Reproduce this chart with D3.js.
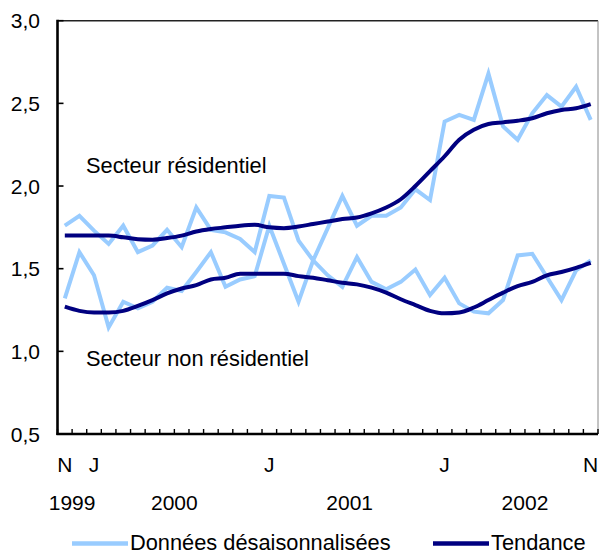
<!DOCTYPE html>
<html>
<head>
<meta charset="utf-8">
<script src="https://cdn.jsdelivr.net/npm/d3@7"></script>
<style>
  html, body { margin: 0; padding: 0; background: #fff; }
  svg { display: block; }
</style>
</head>
<body>
<svg id="chart" width="599" height="555"></svg>
<script>
(function () {
  'use strict';

  // Nov 1999 .. Nov 2002, monthly
  const months = d3.timeMonth.range(new Date(1999, 10, 1), new Date(2002, 11, 1));

  const resRaw = [
    1.76, 1.82, 1.73, 1.65, 1.76, 1.60, 1.64, 1.735, 1.63, 1.87,
    1.735, 1.72, 1.68, 1.60, 1.94, 1.93, 1.67, 1.55, 1.745, 1.94,
    1.76, 1.82, 1.82, 1.87, 1.98, 1.915, 2.39, 2.43, 2.40, 2.68,
    2.36, 2.28, 2.44, 2.55, 2.48, 2.60, 2.40
  ];
  const resTrend = [
    1.70, 1.70, 1.70, 1.70, 1.69, 1.678, 1.675, 1.685, 1.70, 1.725,
    1.74, 1.75, 1.76, 1.765, 1.75, 1.745, 1.755, 1.77, 1.785, 1.80,
    1.81, 1.835, 1.87, 1.92, 2.00, 2.09, 2.18, 2.28, 2.34, 2.375,
    2.385, 2.395, 2.41, 2.44, 2.46, 2.47, 2.495
  ];
  const nonResRaw = [
    1.32, 1.60, 1.46, 1.145, 1.30, 1.26, 1.30, 1.385, 1.365, 1.48,
    1.60, 1.39, 1.435, 1.455, 1.76, 1.53, 1.30, 1.55, 1.46, 1.39,
    1.57, 1.42, 1.375, 1.42, 1.495, 1.34, 1.445, 1.29, 1.24, 1.23,
    1.31, 1.58, 1.59, 1.45, 1.31, 1.49, 1.55
  ];
  const nonResTrend = [
    1.27, 1.245, 1.235, 1.235, 1.245, 1.275, 1.31, 1.35, 1.38, 1.40,
    1.435, 1.445, 1.47, 1.47, 1.47, 1.47, 1.455, 1.445, 1.43, 1.415,
    1.405, 1.385, 1.355, 1.315, 1.28, 1.245, 1.23, 1.235, 1.265, 1.31,
    1.355, 1.395, 1.42, 1.46, 1.48, 1.505, 1.535
  ];

  const yTicks = [0.5, 1.0, 1.5, 2.0, 2.5, 3.0];
  // month labels under the axis: index into months
  const monthTickIdx = [0, 2, 14, 26, 36];
  const monthTickLabels = ['N', 'J', 'J', 'J', 'N'];
  // year labels: anchored at the start of a month index
  const yearLabels = ['1999', '2000', '2001', '2002'];
  const yearAnchorIdx = [1, 8, 20, 32];

  const LIGHT = '#99ccff';
  const DARK = '#000080';
  const FONT = '"Liberation Sans", Arial, sans-serif';
  const FS = '21px';
  const FS_LAB = '21.8px';

  const svg = d3.select('#chart');
  const margin = { top: 20.7, right: 1, bottom: 121, left: 57.5 };
  const W = 599, H = 555;
  const x0 = margin.left, x1 = W - margin.right;
  const y0 = margin.top, y1 = H - margin.bottom;

  const x = d3.scaleBand().domain(d3.range(months.length)).range([x0, x1]).padding(0);
  const y = d3.scaleLinear().domain([0.5, 3.0]).range([y1, y0]);
  const cx = (i) => x(i) + x.bandwidth() / 2;

  // frame: top + right
  svg.append('line').attr('x1', x0).attr('x2', x1).attr('y1', y0).attr('y2', y0)
    .attr('stroke', '#222').attr('stroke-width', 1.6);
  svg.append('line').attr('x1', x1).attr('x2', x1).attr('y1', y0).attr('y2', y1)
    .attr('stroke', '#888').attr('stroke-width', 1);

  // series
  const rawLine = d3.line().x((_, i) => cx(i)).y((d) => y(d));
  const trendLine = d3.line().x((_, i) => cx(i)).y((d) => y(d)).curve(d3.curveMonotoneX);

  [resRaw, nonResRaw].forEach((s) => {
    svg.append('path').datum(s).attr('d', rawLine)
      .attr('fill', 'none').attr('stroke', LIGHT).attr('stroke-width', 4)
      .attr('stroke-linejoin', 'miter');
  });
  [resTrend, nonResTrend].forEach((s) => {
    svg.append('path').datum(s).attr('d', trendLine)
      .attr('fill', 'none').attr('stroke', DARK).attr('stroke-width', 4)
      .attr('stroke-linejoin', 'round');
  });

  // y axis (ticks point inward)
  const yAxis = svg.append('g');
  yAxis.append('line').attr('x1', x0).attr('x2', x0).attr('y1', y0 - 1).attr('y2', y1 + 1)
    .attr('stroke', '#000').attr('stroke-width', 2.6);
  yTicks.forEach((v) => {
    yAxis.append('line').attr('x1', x0).attr('x2', x0 + 6).attr('y1', y(v)).attr('y2', y(v))
      .attr('stroke', '#000').attr('stroke-width', 1.6);
    yAxis.append('text').attr('x', 40).attr('y', y(v)).attr('dy', '0.36em')
      .attr('text-anchor', 'end')
      .style('font-family', FONT).style('font-size', FS).style('fill', '#000')
      .text(d3.format('.1f')(v).replace('.', ','));
  });

  // x axis: ticks at category boundaries, inward
  const xAxis = svg.append('g');
  xAxis.append('line').attr('x1', x0 - 1).attr('x2', x1).attr('y1', y1).attr('y2', y1)
    .attr('stroke', '#000').attr('stroke-width', 2.6);
  d3.range(months.length + 1).forEach((k) => {
    const xx = k < months.length ? x(k) : x1;
    xAxis.append('line').attr('x1', xx).attr('x2', xx).attr('y1', y1).attr('y2', y1 - 5)
      .attr('stroke', '#000').attr('stroke-width', 1.4);
  });
  monthTickIdx.forEach((idx, j) => {
    xAxis.append('text').attr('x', cx(idx)).attr('y', 472).attr('text-anchor', 'middle')
      .style('font-family', FONT).style('font-size', FS).style('fill', '#000')
      .text(monthTickLabels[j]);
  });
  yearLabels.forEach((lab, j) => {
    xAxis.append('text').attr('x', x(yearAnchorIdx[j])).attr('y', 510).attr('text-anchor', 'middle')
      .style('font-family', FONT).style('font-size', FS).style('fill', '#000')
      .text(lab);
  });

  // series labels
  svg.append('text').attr('x', 86).attr('y', 173)
    .style('font-family', FONT).style('font-size', FS_LAB).style('fill', '#000')
    .text('Secteur résidentiel');
  svg.append('text').attr('x', 86).attr('y', 366)
    .style('font-family', FONT).style('font-size', FS_LAB).style('fill', '#000')
    .text('Secteur non résidentiel');

  // legend
  const legend = [
    { label: 'Données désaisonnalisées', color: LIGHT, x: 72 },
    { label: 'Tendance', color: DARK, x: 433 },
  ];
  legend.forEach((d) => {
    svg.append('line').attr('x1', d.x).attr('x2', d.x + 56).attr('y1', 543.5).attr('y2', 543.5)
      .attr('stroke', d.color).attr('stroke-width', 4.5);
    svg.append('text').attr('x', d.x + 58).attr('y', 550)
      .style('font-family', FONT).style('font-size', FS_LAB).style('fill', '#000')
      .text(d.label);
  });
})();
</script>
</body>
</html>
